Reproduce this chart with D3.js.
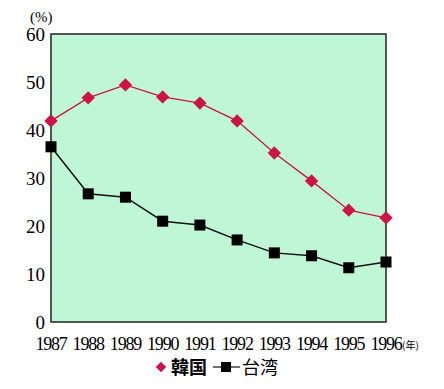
<!DOCTYPE html>
<html>
<head>
<meta charset="utf-8">
<script src="https://cdn.jsdelivr.net/npm/d3@7"></script>
<style>
  body { margin: 0; background: #fff; }
  svg { display: block; }
</style>
</head>
<body>
<div id="content"></div>
<script>
const years = [1987, 1988, 1989, 1990, 1991, 1992, 1993, 1994, 1995, 1996];
const korea = [41.9, 46.7, 49.4, 46.9, 45.6, 41.9, 35.2, 29.4, 23.3, 21.7];
const taiwan = [36.5, 26.7, 26.0, 21.0, 20.2, 17.1, 14.4, 13.8, 11.3, 12.5];
const yTicks = [0, 10, 20, 30, 40, 50, 60];
const seriesNames = ['韓国', '台湾'];

const width = 444, height = 389;
const plotLeft = 51, plotRight = 386, plotTop = 34, plotBottom = 322;

const svg = d3.select('#content').append('svg')
  .attr('width', width)
  .attr('height', height);

let x = d3.scalePoint()
  .domain(years)
  .range([plotLeft, plotRight]);

let y = d3.scaleLinear()
  .domain([0, 60])
  .range([plotBottom, plotTop]);

// plot background
svg.append('rect')
  .attr('x', plotLeft).attr('y', plotTop)
  .attr('width', plotRight - plotLeft).attr('height', plotBottom - plotTop)
  .attr('fill', '#bff7d6')
  .attr('stroke', '#222')
  .attr('stroke-width', 1.5);

// y axis labels
svg.append('g')
  .selectAll('text')
  .data(yTicks)
  .join('text')
  .attr('x', plotLeft - 6)
  .attr('y', d => y(d) + 7)
  .attr('text-anchor', 'end')
  .attr('font-family', 'Liberation Serif, serif')
  .attr('font-size', 19)
  .text(d => d);

svg.append('text')
  .attr('x', 30).attr('y', 22)
  .attr('font-family', 'Liberation Serif, serif')
  .attr('font-size', 15)
  .text('(%)');

// x axis labels
svg.append('g')
  .selectAll('text')
  .data(years)
  .join('text')
  .attr('x', d => x(d))
  .attr('y', 350)
  .attr('text-anchor', 'middle')
  .attr('font-family', 'Liberation Serif, serif')
  .attr('font-size', 18)
  .attr('letter-spacing', -1.2)
  .text(d => d);

svg.append('text')
  .attr('x', 402).attr('y', 349)
  .attr('font-family', 'Noto Sans CJK JP, sans-serif')
  .attr('font-size', 10)
  .text('(年)');

let line = d3.line()
  .x((d, i) => x(years[i]))
  .y(d => y(d));

// Taiwan
svg.append('path')
  .datum(taiwan)
  .attr('d', line)
  .attr('fill', 'none')
  .attr('stroke', '#111')
  .attr('stroke-width', 1.5);

svg.append('g')
  .selectAll('rect')
  .data(taiwan)
  .join('rect')
  .attr('x', (d, i) => x(years[i]) - 5.5)
  .attr('y', d => y(d) - 5.5)
  .attr('width', 11).attr('height', 11)
  .attr('fill', '#000');

// Korea
svg.append('path')
  .datum(korea)
  .attr('d', line)
  .attr('fill', 'none')
  .attr('stroke', '#c8163f')
  .attr('stroke-width', 1.3);

let diamond = d3.symbol().type(d3.symbolSquare).size(90);

svg.append('g')
  .selectAll('path')
  .data(korea)
  .join('path')
  .attr('d', diamond)
  .attr('transform', (d, i) => `translate(${x(years[i])},${y(d)}) rotate(45)`)
  .attr('fill', '#cc1446');

// legend
const legend = svg.append('g').attr('font-family', 'Noto Sans CJK JP, sans-serif').attr('font-size', 18).attr('font-weight', 'bold');

legend.append('path')
  .attr('d', d3.symbol().type(d3.symbolSquare).size(55))
  .attr('transform', 'translate(161,367) rotate(45)')
  .attr('fill', '#cc1446');
legend.append('text').attr('x', 171).attr('y', 374).text(seriesNames[0]);

legend.append('line')
  .attr('x1', 213).attr('x2', 240).attr('y1', 367).attr('y2', 367)
  .attr('stroke', '#111').attr('stroke-width', 1.2);
legend.append('rect')
  .attr('x', 221).attr('y', 362).attr('width', 10).attr('height', 10)
  .attr('fill', '#000');
legend.append('text').attr('x', 242).attr('y', 374).attr('font-weight', 'normal').text(seriesNames[1]);
</script>
</body>
</html>
